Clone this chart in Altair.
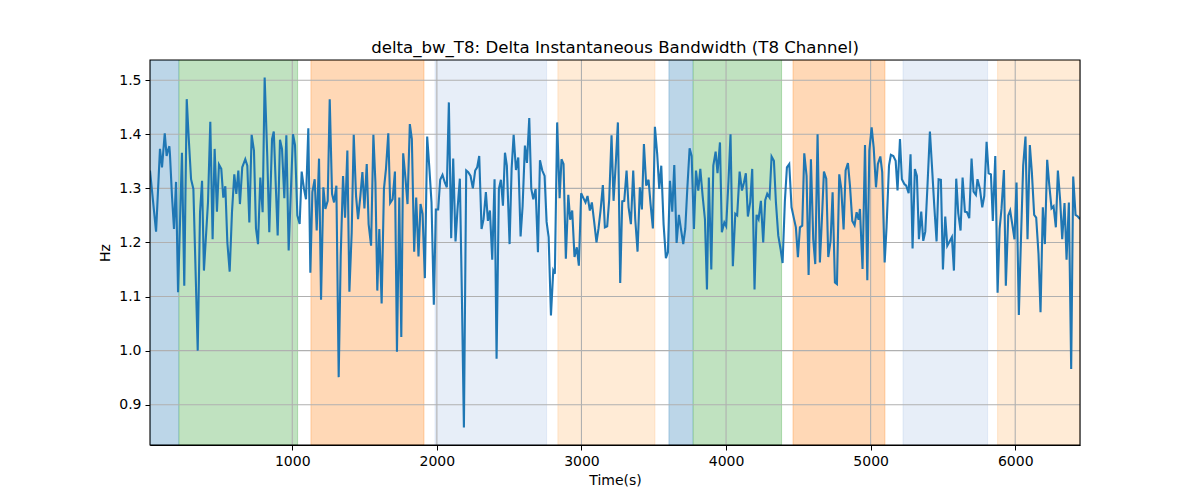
import altair as alt
import pandas as pd

TITLE = "delta_bw_T8: Delta Instantaneous Bandwidth (T8 Channel)"

times = [16, 58, 85, 99, 118, 131, 140, 150, 154, 168, 182, 196, 210, 237, 253, 270, 283, 300, 316, 346,
         362, 376, 389, 417, 433, 449, 463, 479, 493, 509, 523, 537, 551, 567, 583, 599, 613, 627, 638, 654,
         675, 689, 703, 719, 735, 749, 763, 779, 795, 809, 827, 841,
         860, 872, 899, 915, 929, 945, 959, 975, 1005, 1019, 1035, 1051, 1065, 1081, 1095, 1111, 1125, 1139,
         1155, 1169, 1185, 1199, 1215, 1229, 1245, 1259, 1275, 1289, 1305, 1321, 1335, 1351, 1365, 1381, 1395,
         1411, 1425, 1441, 1455, 1471, 1485, 1499, 1515, 1528, 1545, 1561, 1575, 1588, 1602,
         1618, 1634, 1648, 1664, 1677, 1694, 1710, 1724, 1740, 1754, 1767, 1783, 1797, 1813, 1827, 1843, 1857,
         1873, 1887, 1901, 1917, 1933, 1947, 1963, 1979, 1993, 2009, 2023, 2039, 2055, 2069, 2083, 2099, 2113,
         2129, 2143, 2159, 2173, 2187, 2203, 2217, 2233, 2249, 2265, 2279, 2293, 2309, 2323, 2339, 2353, 2367,
         2383, 2399, 2413, 2429, 2443,
         2457, 2471, 2484, 2503, 2517, 2531, 2547, 2563, 2579, 2593, 2609, 2623, 2639, 2653, 2667, 2683, 2699,
         2713, 2729, 2745, 2759, 2773, 2789, 2805, 2816, 2832, 2849, 2862, 2876, 2892, 2909, 2922, 2936, 2952,
         2968, 2982, 2998, 3012, 3028, 3042, 3058, 3072, 3088, 3104, 3118, 3132, 3148, 3162, 3178, 3192, 3208,
         3222, 3238, 3252,
         3268, 3282, 3296, 3312, 3326, 3342, 3358, 3372, 3388, 3404, 3418, 3432, 3448, 3464, 3478, 3494, 3508,
         3524, 3538, 3552, 3568, 3584, 3598, 3612, 3628, 3642, 3658, 3674, 3688, 3704, 3718, 3732, 3748, 3762,
         3778, 3792, 3808, 3822, 3838, 3854, 3868, 3881, 3898, 3912, 3928, 3941, 3958, 3971, 3988, 4001, 4017,
         4031, 4047, 4064, 4077, 4094,
         4110, 4124, 4137, 4151, 4167, 4181, 4197, 4211, 4225, 4241, 4257, 4271, 4285, 4301, 4315, 4331, 4345,
         4361, 4377, 4391, 4407, 4421, 4437, 4453, 4469, 4483, 4497, 4511, 4527, 4541, 4557, 4571, 4587, 4603,
         4617, 4633, 4649, 4663, 4677, 4693, 4707, 4723, 4737, 4753, 4767, 4783, 4797, 4813, 4827, 4843, 4857,
         4873, 4889, 4903, 4917,
         4926, 4944, 4961, 4977, 4991, 5007, 5021, 5037, 5050, 5067, 5080, 5097, 5110, 5127, 5140, 5157, 5173,
         5186, 5203, 5216, 5233, 5246, 5263, 5276, 5290, 5306, 5320, 5334, 5350, 5364, 5378, 5394, 5410, 5424,
         5440, 5456, 5470, 5486, 5500, 5516, 5530, 5546, 5562, 5576, 5592, 5606, 5622, 5636, 5652, 5666, 5682,
         5698, 5712, 5728,
         5739, 5756, 5772, 5786, 5802, 5816, 5832, 5845, 5862, 5878, 5892, 5905, 5922, 5935, 5952, 5965, 5981,
         5995, 6009, 6025, 6039, 6055, 6071, 6085, 6101, 6115, 6131, 6145, 6161, 6175, 6191, 6205, 6221, 6235,
         6251, 6265, 6281, 6295, 6311, 6325, 6341, 6355, 6371, 6387, 6401, 6417, 6433, 6448]

values = [1.333, 1.220, 1.373, 1.339, 1.402, 1.360, 1.370, 1.378, 1.363, 1.286, 1.225, 1.312, 1.108, 1.366,
          1.120, 1.465, 1.397, 1.317, 1.299, 1.000, 1.256, 1.314, 1.148, 1.274, 1.423, 1.206, 1.373, 1.257,
          1.344, 1.336, 1.283, 1.304, 1.200, 1.146, 1.256, 1.326, 1.290, 1.333, 1.271, 1.339, 1.354, 1.342,
          1.237, 1.399, 1.370, 1.226, 1.197, 1.320, 1.256, 1.505, 1.360, 1.219,
          1.391, 1.405, 1.213, 1.390, 1.373, 1.282, 1.398, 1.185, 1.400, 1.380, 1.250, 1.234, 1.331, 1.299,
          1.280, 1.411, 1.144, 1.293, 1.317, 1.222, 1.355, 1.094, 1.302, 1.262, 1.277, 1.465, 1.290, 1.274,
          1.305, 0.951, 1.176, 1.323, 1.246, 1.370, 1.109, 1.219, 1.399, 1.286, 1.243, 1.286, 1.330, 1.263,
          1.345, 1.234, 1.194, 1.399, 1.311, 1.111, 1.225,
          1.087, 1.299, 1.336, 1.402, 1.273, 1.280, 1.331, 0.998, 1.283, 1.025, 1.365, 1.318, 1.271, 1.419,
          1.391, 1.183, 1.283, 1.174, 1.271, 1.253, 1.134, 1.396, 1.342, 1.274, 1.085, 1.261, 1.261, 1.316,
          1.325, 1.311, 1.302, 1.459, 1.208, 1.355, 1.202, 1.262, 1.318, 1.102, 0.858, 1.333, 1.330, 1.323,
          1.300, 1.333, 1.339, 1.360, 1.225, 1.243, 1.293, 1.240, 1.259, 1.168, 1.317, 0.985, 1.299, 1.316,
          1.268, 1.366, 1.342, 1.197, 1.336, 1.399, 1.334, 1.357, 1.211, 1.267, 1.379, 1.347, 1.430, 1.299,
          1.280, 1.299, 1.182, 1.352, 1.333, 1.323, 1.238, 1.210, 1.065, 1.148, 1.142, 1.422, 1.282, 1.354,
          1.345, 1.170, 1.288, 1.242, 1.259, 1.173, 1.191, 1.157, 1.291, 1.283, 1.274, 1.286, 1.259, 1.274,
          1.238, 1.200, 1.226, 1.259, 1.306, 1.228, 1.230, 1.280, 1.398, 1.277, 1.349, 1.422,
          1.125, 1.276, 1.277, 1.333, 1.265, 1.234, 1.333, 1.243, 1.183, 1.302, 1.261, 1.382, 1.305, 1.316,
          1.271, 1.226, 1.414, 1.363, 1.299, 1.342, 1.234, 1.171, 1.182, 1.314, 1.257, 1.343, 1.199, 1.251,
          1.225, 1.197, 1.225, 1.299, 1.374, 1.360, 1.225, 1.333, 1.296, 1.336, 1.286, 1.243, 1.113, 1.320,
          1.150, 1.342, 1.368, 1.328, 1.385, 1.219, 1.237, 1.230, 1.314, 1.400, 1.156, 1.253, 1.250, 1.331,
          1.296, 1.311, 1.328, 1.248, 1.274, 1.336, 1.113, 1.251, 1.243, 1.277, 1.200, 1.278, 1.290, 1.283,
          1.359, 1.351, 1.274, 1.213, 1.188, 1.162, 1.277, 1.339, 1.345, 1.265, 1.245, 1.228, 1.173, 1.228,
          1.231, 1.365, 1.323, 1.140, 1.354, 1.206, 1.160, 1.400, 1.163, 1.243, 1.331, 1.318, 1.173, 1.203,
          1.293, 1.126, 1.123, 1.326, 1.299, 1.224, 1.333, 1.347, 1.305, 1.240, 1.232, 1.256, 1.242,
          1.262, 1.151, 1.380, 1.130, 1.370, 1.413, 1.376, 1.302, 1.345, 1.359, 1.330, 1.163, 1.228, 1.342,
          1.362, 1.360, 1.351, 1.296, 1.391, 1.317, 1.308, 1.305, 1.291, 1.363, 1.189, 1.336, 1.323, 1.206,
          1.257, 1.203, 1.220, 1.310, 1.405, 1.342, 1.268, 1.202, 1.317, 1.316, 1.150, 1.248, 1.194, 1.202,
          1.210, 1.148, 1.318, 1.254, 1.222, 1.320, 1.257, 1.256, 1.245, 1.355, 1.294, 1.288,
          1.317, 1.299, 1.265, 1.286, 1.386, 1.328, 1.326, 1.240, 1.360, 1.107, 1.225, 1.262, 1.334, 1.120,
          1.250, 1.259, 1.231, 1.206, 1.311, 1.066, 1.200, 1.342, 1.396, 1.206, 1.380, 1.330, 1.251, 1.246,
          1.179, 1.071, 1.265, 1.197, 1.353, 1.308, 1.263, 1.267, 1.228, 1.333, 1.277, 1.206, 1.273, 1.168,
          1.274, 0.966, 1.322, 1.251, 1.248, 1.243]

region_starts = [16, 217, 1129, 1987, 2837, 3605, 3773, 4463, 5224, 5878]
region_ends = [217, 1037, 1911, 2759, 3508, 3773, 4384, 5099, 5809, 6448]
region_colors = ["#bcd6e8", "#c0e2c0", "#ffd8b6", "#e7eef8", "#ffebd6",
                 "#bcd6e8", "#c0e2c0", "#ffd8b6", "#e7eef8", "#ffebd6"]
region_edges = ["#1f77b4", "#2ca02c", "#ff7f0e", "#aec7e8", "#ffbb78",
                "#1f77b4", "#2ca02c", "#ff7f0e", "#aec7e8", "#ffbb78"]

x_ticks = [1000, 2000, 3000, 4000, 5000, 6000]
y_ticks = [0.9, 1.0, 1.1, 1.2, 1.3, 1.4, 1.5]

X_DOMAIN = [16, 6448]
Y_DOMAIN = [0.8255, 1.5374]
FONT = "DejaVu Sans"

line_df = pd.DataFrame({"t": times, "v": values})
reg_df = pd.DataFrame({"t": region_starts, "e": region_ends, "c": region_colors, "sc": region_edges,
                       "v": [Y_DOMAIN[0]] * len(region_starts), "v2": [Y_DOMAIN[1]] * len(region_starts)})
xg_df = pd.DataFrame({"t": x_ticks, "v": [Y_DOMAIN[0]] * len(x_ticks), "v2": [Y_DOMAIN[1]] * len(x_ticks)})
yg_df = pd.DataFrame({"v": y_ticks, "t": [X_DOMAIN[0]] * len(y_ticks), "t2": [X_DOMAIN[1]] * len(y_ticks)})
frame_df = pd.DataFrame({"t": [X_DOMAIN[0]], "e": [X_DOMAIN[1]], "v": [Y_DOMAIN[0]], "v2": [Y_DOMAIN[1]]})

xscale = alt.Scale(domain=X_DOMAIN, nice=False, zero=False)
yscale = alt.Scale(domain=Y_DOMAIN, nice=False, zero=False)

x_axis = alt.Axis(values=x_ticks, format="d", title="Time(s)", grid=False,
                  labelFont=FONT, labelFontSize=14, labelColor="black",
                  titleFont=FONT, titleFontSize=14, titleFontWeight="normal", titleColor="black",
                  tickColor="black", tickSize=5, tickWidth=1, domainColor="black", domainWidth=1,
                  labelPadding=4, titlePadding=5, labelFlush=False)
y_axis = alt.Axis(values=y_ticks, format=".1f", title="Hz", grid=False,
                  labelFont=FONT, labelFontSize=14, labelColor="black",
                  titleFont=FONT, titleFontSize=14, titleFontWeight="normal", titleColor="black",
                  tickColor="black", tickSize=5, tickWidth=1, domainColor="black", domainWidth=1,
                  labelPadding=4, titlePadding=6, labelFlush=False)

X = alt.X("t:Q", scale=xscale, axis=x_axis)
Y = alt.Y("v:Q", scale=yscale, axis=y_axis)

regions = alt.Chart(reg_df).mark_rect(clip=True, strokeWidth=1, strokeOpacity=0.3).encode(
    x=X, x2="e:Q", y=Y, y2="v2:Q",
    color=alt.Color("c:N", scale=None),
    stroke=alt.Stroke("sc:N", scale=None),
)

xgrid = alt.Chart(xg_df).mark_rule(color="#b0b0b0", strokeWidth=1.1).encode(
    x=X, y=Y, y2="v2:Q",
)
ygrid = alt.Chart(yg_df).mark_rule(color="#b0b0b0", strokeWidth=1.1).encode(
    y=Y, x=X, x2="t2:Q",
)

line = alt.Chart(line_df).mark_line(color="#1f77b4", strokeWidth=2.1, clip=True).encode(
    x=X, y=Y,
)

frame = alt.Chart(frame_df).mark_rect(filled=False, stroke="black", strokeWidth=1.1).encode(
    x=X, x2="e:Q", y=Y, y2="v2:Q",
)

chart = alt.layer(regions, xgrid, ygrid, line, frame).properties(
    width=930,
    height=385,
    title=alt.TitleParams(TITLE, font=FONT, fontSize=16.6, fontWeight="normal", color="black",
                          anchor="middle", offset=3),
    autosize=alt.AutoSizeParams(type="none"),
    padding={"left": 142, "top": 52, "right": 112, "bottom": 47},
).configure_view(stroke="black", strokeWidth=1).configure(background="white")

chart.save("out.html", embed_options={"renderer": "svg", "actions": False})
